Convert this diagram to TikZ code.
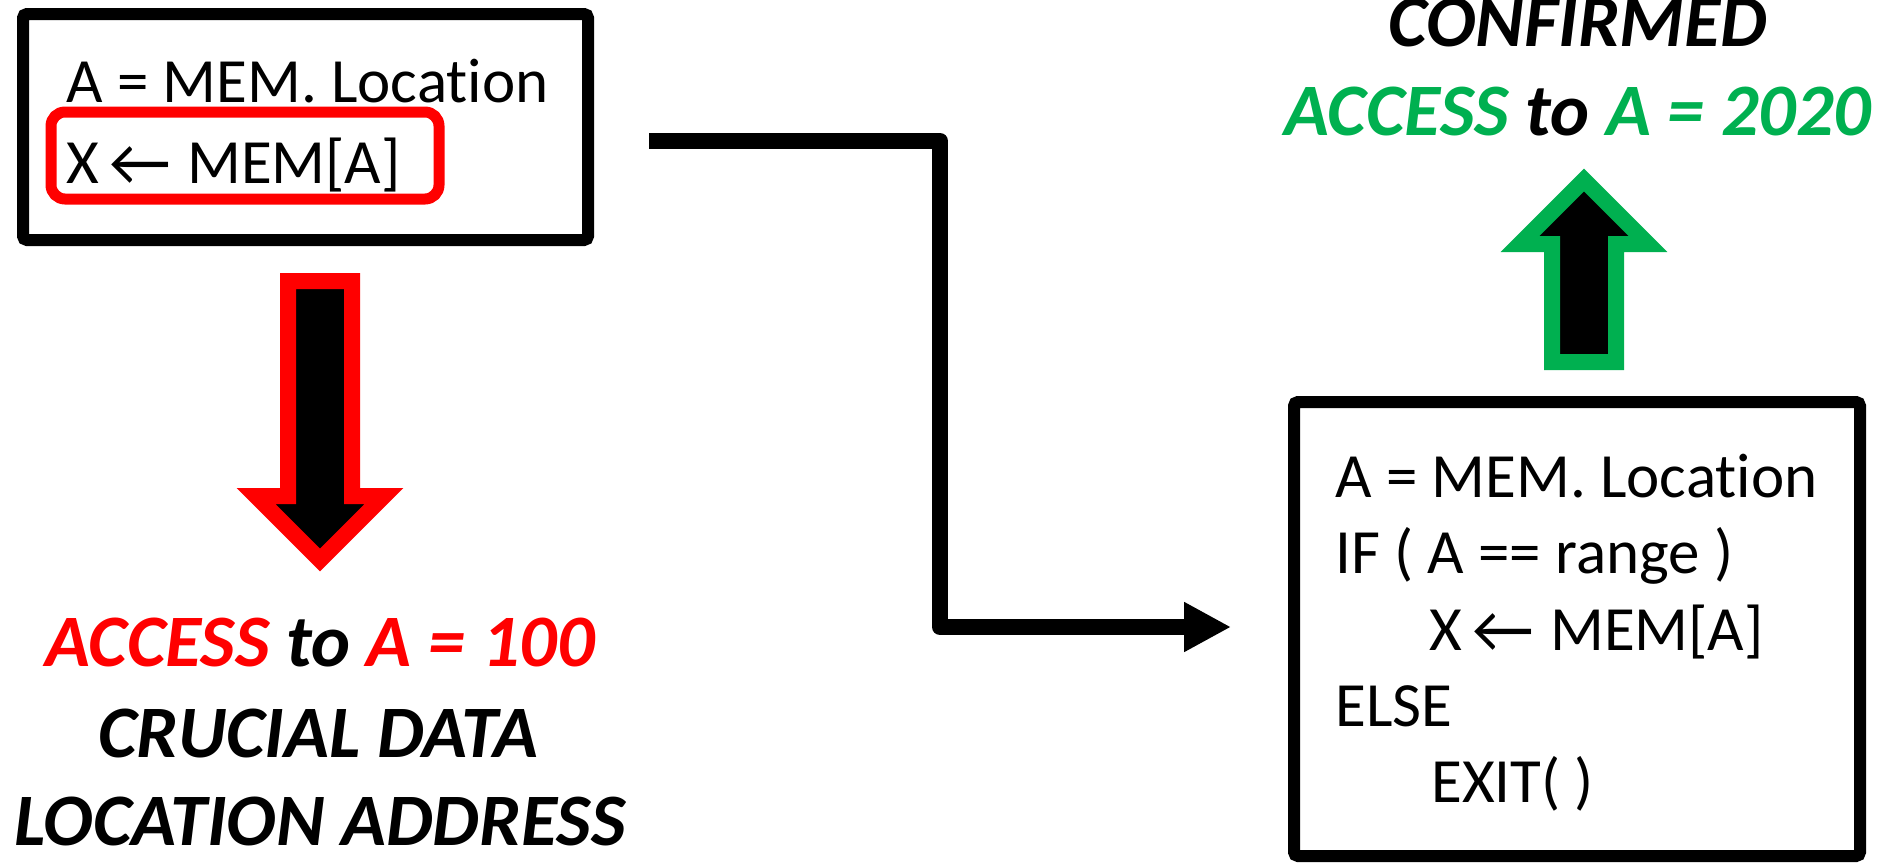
\documentclass[tikz,border=0pt]{standalone}
\usepackage{fontspec}
\setmainfont{Carlito}[Ligatures={NoCommon}]
\usetikzlibrary{arrows.meta}
\definecolor{offgreen}{HTML}{00B050}
\definecolor{offred}{HTML}{FF0000}
\newcommand{\bigarrowglyph}{\hspace{-2pt}{\fontsize{34pt}{34pt}\selectfont\raisebox{-1pt}{←}}\hspace{1pt}}
\begin{document}
\begin{tikzpicture}[x=0.5pt,y=-0.5pt,
  codebox/.style={draw=black, line width=6pt, rounded corners=2pt, minimum width=#1, inner sep=0pt},
  codetxt/.style={inner sep=0pt, anchor=base west, font=\fontsize{31.5pt}{38.5pt}\selectfont},
  bigtxt/.style={inner sep=0pt, anchor=base, font=\fontsize{37pt}{45pt}\selectfont\bfseries\itshape},
  hilite/.style={draw=offred, line width=5.5pt, rounded corners=7pt, inner sep=0pt},
  fatarrow/.style={line width=8pt, fill=black, miter limit=10},
  link/.style={line width=8pt, line join=round, -{Triangle[length=23.5pt,width=23.5pt]}}
]
\useasboundingbox (0,0) rectangle (1888,862);
% top-left box
\node[codebox=282.5pt, minimum height=113pt] (box1) at (305.5,127) {};
\node[hilite, minimum width=194pt, minimum height=43.5pt] (hl) at (245,155.5) {};
\node[codetxt] (b1l1) at (66,102) {A = MEM. Location};
\node[codetxt] (b1l2) at (66,183) {X \bigarrowglyph{} MEM[A]};
% down arrow
\draw[fatarrow, draw=offred] (288,281) -- (352,281) -- (352,496) -- (384,496) -- (320,560) -- (256,496) -- (288,496) -- cycle;
% bottom-left text
\node[bigtxt] (acc1) at (320,666) {\textcolor{offred}{ACCESS} to \textcolor{offred}{A = 100}};
\node[bigtxt] (crd) at (318,757) {CRUCIAL DATA};
\node[bigtxt] (loc) at (320,845) {LOCATION ADDRESS};
% right box
\node[codebox=283pt, minimum height=227pt] (box2) at (1577,629) {};
\node[codetxt] (b2l1) at (1335,497) {A = MEM. Location};
\node[codetxt] (b2l2) at (1335,573) {IF ( A == range )};
\node[codetxt] (b2l3) at (1429,650) {X \bigarrowglyph{} MEM[A]};
\node[codetxt] (b2l4) at (1335,726) {ELSE};
\node[codetxt] (b2l5) at (1431,802) {EXIT( )};
% up arrow
\draw[fatarrow, draw=offgreen] (1552,362) -- (1616,362) -- (1616,244) -- (1648,244) -- (1584,180) -- (1520,244) -- (1552,244) -- cycle;
% top-right text
\node[bigtxt] (conf) at (1578,46) {CONFIRMED};
\node[bigtxt] (acc2) at (1578,135) {\textcolor{offgreen}{ACCESS} to \textcolor{offgreen}{A = 2020}};
% connector
\coordinate (cs) at (649,141);
\coordinate (cm) at (940,627);
\coordinate (ce) at (1231,627);
\draw[link] (cs) -| (cm) -- (ce);
\end{tikzpicture}
\end{document}
